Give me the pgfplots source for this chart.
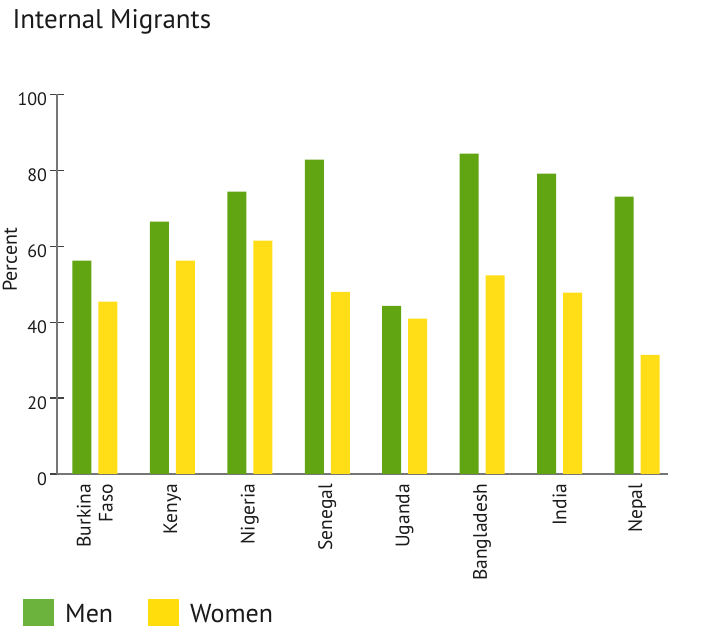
\documentclass[border=0pt]{standalone}
\usepackage{pgfplots}
\pgfplotsset{compat=1.18}
\usepackage{fontspec}
\setmainfont{PT Sans}
\definecolor{menbar}{HTML}{62A512}
\definecolor{womenbar}{HTML}{FFDE17}
\definecolor{menleg}{HTML}{6CB33E}
\definecolor{womenleg}{HTML}{FFDC0B}
\definecolor{axisgray}{HTML}{767676}
\definecolor{tickgray}{HTML}{444444}
\definecolor{txt}{HTML}{1A1A1A}

\begin{document}
\begin{tikzpicture}
\path[use as bounding box] (0,0) rectangle (701pt,628pt);
\begin{axis}[
  at={(57pt,154pt)}, anchor=south west,
  scale only axis, width=611pt, height=379.6pt,
  ybar, bar width=19pt,
  xmin=-0.49, xmax=7.40, ymin=0, ymax=100,
  axis x line=bottom, axis y line=left,
  axis line style={-, draw=axisgray, line width=1.5pt},
  xtick={0,...,7},
  xticklabels={{Burkina\\Faso},Kenya,Nigeria,Senegal,Uganda,Bangladesh,India,Nepal},
  x tick style={draw=none},
  xticklabel style={rotate=90, anchor=east, align=right, text=txt,
    font=\fontsize{19.5}{22}\selectfont},
  ytick={0,20,...,100},
  tick align=center, major tick length=13pt,
  y tick style={draw=tickgray, line width=1.2pt},
  yticklabel style={text=txt, font=\fontsize{18}{20}\selectfont, yshift=-5pt},
  /pgf/number format/assume math mode=true,
  ylabel={Percent},
  ylabel style={at={(axis description cs:-0.0655,0.564)}, anchor=base, text=txt,
    font=\fontsize{20}{22}\selectfont},
  title={Internal Migrants},
  every axis title shift/.style={},
  title style={at={(axis description cs:-0.073,1.159)}, anchor=base west, text=txt,
    inner sep=0pt, font=\fontsize{27}{30}\selectfont},
  legend columns=2,
  legend image code/.code={\fill[#1] (0pt,-13.5pt) rectangle (31pt,13.5pt);},
  legend style={at={(axis description cs:-0.0556,-0.366)}, anchor=west,
    draw=none, inner sep=0pt, text=txt,
    font=\fontsize{26}{28}\selectfont,
    nodes={inner sep=0pt, text depth=0pt},
    /tikz/every odd column/.style={column sep=11pt},
    /tikz/every even column/.style={column sep=35pt}},
]
\addlegendimage{fill=menleg, draw=none}
\addlegendentry{Men}
\addlegendimage{fill=womenleg, draw=none}
\addlegendentry{Women}

\addplot[forget plot, fill=menbar, draw=none, bar shift=-13pt] coordinates
  {(0,56.2) (1,66.5) (2,74.4) (3,82.8) (4,44.3) (5,84.4) (6,79.1) (7,73.1)};
\addplot[forget plot, fill=womenbar, draw=none, bar shift=13pt] coordinates
  {(0,45.4) (1,56.2) (2,61.5) (3,48.0) (4,40.9) (5,52.3) (6,47.8) (7,31.4)};
\end{axis}
\end{tikzpicture}
\end{document}
